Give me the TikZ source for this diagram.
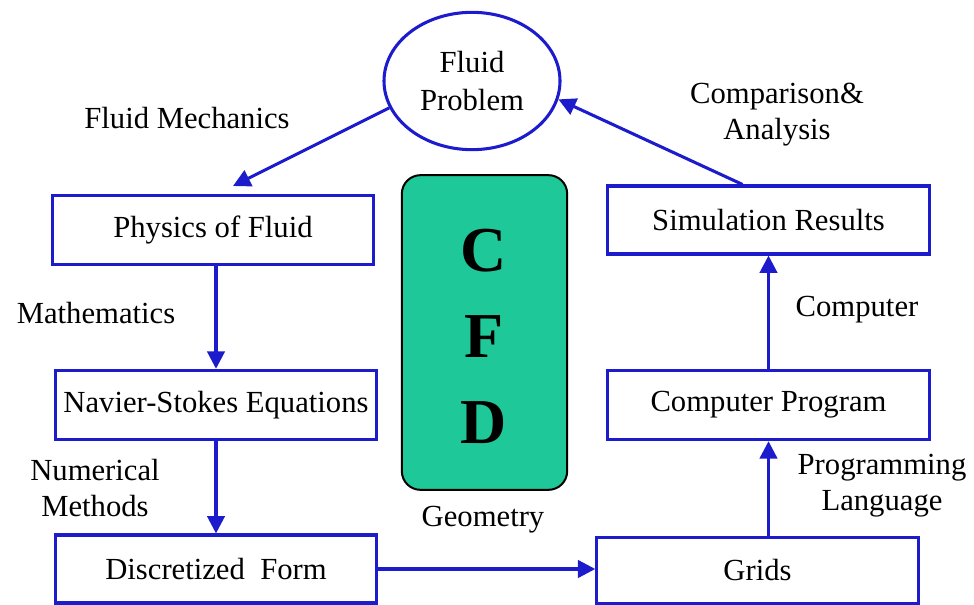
\documentclass[tikz,border=0pt]{standalone}
\usepackage{fontspec}
\setmainfont{Liberation Serif}
\usetikzlibrary{shapes.geometric,arrows.meta,calc}
\definecolor{fblue}{RGB}{28,28,205}
\definecolor{cfdgreen}{RGB}{30,200,152}
\tikzset{
  box/.style={draw=fblue,line width=2.3pt,minimum width=241pt,minimum height=52pt,inner sep=0pt,font=\fontsize{23}{27}\selectfont},
  arr/.style={draw=fblue,line width=2.3pt,-{Triangle[length=13pt,width=13pt]}},
  lbl/.style={font=\fontsize{23}{27}\selectfont,align=center,inner sep=0pt},
}
\begin{document}
\begin{tikzpicture}[x=0.75pt,y=-0.75pt]
\useasboundingbox (0,0) rectangle (974,605);
\node[ellipse,draw=fblue,line width=2.3pt,minimum width=132pt,minimum height=103pt,inner sep=0pt,align=center,font=\fontsize{23}{28}\selectfont] (fp) at (472,81) {Fluid\\Problem};
\node[box] (phys) at (213,230) {Physics of Fluid};
\node[box] (ns) at (216,405) {Navier-Stokes Equations};
\node[box,minimum height=51pt] (disc) at (216,569) {Discretized\ \ Form};
\node[box,minimum height=50pt] (grids) at (757.5,570.5) {Grids};
\node[box] (cp) at (768.5,405) {Computer Program};
\node[box,minimum height=51pt] (sim) at (768.5,220) {Simulation Results};
\node[draw=black,line width=1.5pt,fill=cfdgreen,rounded corners=14pt,minimum width=124pt,minimum height=236pt,inner sep=0pt] (cfd) at (484.5,332.5) {};
\node[font=\fontsize{48}{48}\selectfont\bfseries,inner sep=0pt] (c) at (484,251) {C};
\node[font=\fontsize{48}{48}\selectfont\bfseries,inner sep=0pt] (f) at (484,337) {F};
\node[font=\fontsize{48}{48}\selectfont\bfseries,inner sep=0pt] (d) at (484,423) {D};
\node[lbl] (geo) at (483,520) {Geometry};
\node[lbl] (fm) at (187,118) {Fluid Mechanics};
\node[lbl] (ca) at (777,115) {Comparison\&\\Analysis};
\node[lbl] (math) at (96,313) {Mathematics};
\node[lbl] (nm) at (95,488) {Numerical\\Methods};
\node[lbl] (comp) at (857,310) {Computer};
\node[lbl] (pl) at (882,486) {Programming\\Language};
\coordinate (t1) at (233,186);
\draw[arr] (fp.198.6) -- (t1);
\draw[arr] (phys.south -| ns.north) -- (ns.north);
\draw[arr] (ns.south) -- (disc.north);
\draw[arr] (disc.east) -- (disc.east -| grids.west);
\draw[arr] (cp.south |- grids.north) -- (cp.south);
\draw[arr] (cp.north) -- (sim.south);
\draw[arr] ($(sim.north)+(-26,0)$) -- (fp.-12);
\end{tikzpicture}
\end{document}
